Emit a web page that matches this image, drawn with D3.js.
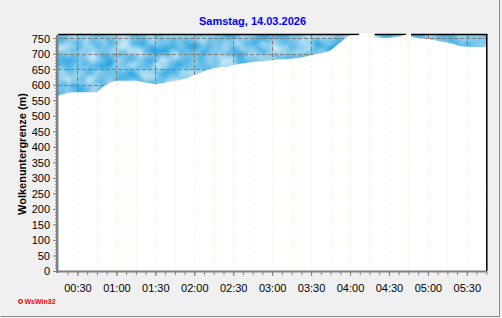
<!DOCTYPE html>
<html>
<head>
<meta charset="utf-8">
<script src="https://cdn.jsdelivr.net/npm/d3@7"></script>
<style>
	body { margin: 0; background: #f0f0f0; }
	svg { display: block; font-family: "Liberation Sans", Arial, sans-serif; }
</style>
</head>
<body>
<div id="chart"></div>
<script>
// Data (cloud base height in m)

var title = 'Samstag, 14.03.2026';
var yLabel = 'Wolkenuntergrenze (m)';
var times = [
	'00:15', '00:20', '00:25', '00:45', '00:50', '00:55', '01:00', '01:15', '01:20', '01:25',
	'01:30', '01:35', '01:40', '01:45', '01:50', '01:55', '02:00', '02:05', '02:10', '02:15',
	'02:20', '02:25', '02:30', '02:35', '02:40', '02:45', '02:50', '02:55', '03:00', '03:05',
	'03:10', '03:15', '03:20', '03:25', '03:30', '03:35', '03:40', '03:45', '03:50', '03:55',
	'04:00', '04:07', '04:08', '04:18', '04:19', '04:25', '04:30', '04:35', '04:39', '04:41',
	'04:43', '04:44', '04:46', '04:47', '04:50', '04:55', '05:00', '05:05', '05:10', '05:15',
	'05:20', '05:25', '05:30', '05:35', '05:40', '05:45'
];
var cloudBase = [
	565, 570, 576, 576, 594, 606, 613, 613, 609, 605,
	602, 605, 609, 612, 617, 622, 630, 638, 647, 653,
	656, 658, 663, 667, 671, 673, 675, 677, 679, 681,
	682, 684, 685, 690, 695, 700, 703, 711, 728, 744,
	758, 760, 1000, 1000, 753, 751, 751, 753, 755, 760,
	760, 1000, 1000, 756, 752, 749, 747, 743, 739, 735,
	731, 724, 722, 721, 721, 721
];
var xTickLabels = ['00:30', '01:00', '01:30', '02:00', '02:30', '03:00', '03:30', '04:00', '04:30', '05:00', '05:30'];
var yTicks = [0, 50, 100, 150, 200, 250, 300, 350, 400, 450, 500, 550, 600, 650, 700, 750];

// Config

var width = 502, height = 318;
var plot = { left: 58, right: 486.3, top: 35, bottom: 271 };
var timeRange = ['00:15', '05:45'];
var yMax = 760;

// Helpers

function toMinutes(s) {
	let parts = s.split(':');
	return +parts[0] * 60 + +parts[1];
}

function range(start, stop, step) {
	return d3.range(start, stop + step / 2, step);
}

var points = times.map((t, i) => ({ t: toMinutes(t), v: cloudBase[i] }));

var x = d3.scaleLinear()
	.domain(timeRange.map(toMinutes))
	.range([plot.left, plot.right]);
var y = d3.scaleLinear()
	.domain([0, yMax])
	.range([plot.bottom, plot.top]);

var svg = d3.select('#chart').append('svg')
	.attr('width', width)
	.attr('height', height);

svg.append('rect')
	.attr('width', width).attr('height', height)
	.attr('fill', '#f0f0f0');

// outer frame
svg.append('path')
	.attr('d', `M0.5,${height - 1.5} L${width - 2.5},${height - 1.5} L${width - 2.5},0`)
	.attr('fill', 'none').attr('stroke', '#8a8a8a');

var defs = svg.append('defs');

// cloud texture
var filter = defs.append('filter')
	.attr('id', 'clouds')
	.attr('x', 0).attr('y', 0).attr('width', 1).attr('height', 1)
	.attr('color-interpolation-filters', 'sRGB');
filter.append('feTurbulence')
	.attr('type', 'fractalNoise')
	.attr('baseFrequency', '0.06 0.07')
	.attr('numOctaves', 2)
	.attr('seed', 7)
	.attr('stitchTiles', 'stitch');
filter.append('feGaussianBlur')
	.attr('stdDeviation', 1.2);
filter.append('feColorMatrix')
	.attr('type', 'matrix')
	.attr('values', [
		'1.1 0 0 0 -0.08',
		'0.45 0 0 0 0.55',
		'0.12 0 0 0 0.86',
		'0 0 0 0 1'
	].join(' '));

defs.append('clipPath').attr('id', 'plot-clip')
	.append('rect')
	.attr('x', plot.left).attr('y', plot.top - 2)
	.attr('width', plot.right - plot.left).attr('height', plot.bottom - plot.top + 2);

var area = d3.area()
	.x(d => x(d.t))
	.y0(y(0))
	.y1(d => y(d.v));

defs.append('clipPath').attr('id', 'clear-clip')
	.append('path')
	.attr('d', area(points));

// Rendering

svg.append('rect')
	.attr('x', plot.left).attr('y', plot.top)
	.attr('width', plot.right - plot.left).attr('height', plot.bottom - plot.top)
	.attr('fill', '#6cc3ef')
	.attr('filter', 'url(#clouds)');

var grid = svg.append('g').attr('class', 'grid')
	.attr('stroke', '#808080').attr('stroke-dasharray', '4,2');
grid.selectAll('.hgrid')
	.data(yTicks.filter(v => v > 0))
	.enter().append('line')
		.attr('x1', plot.left).attr('x2', plot.right)
		.attr('y1', d => Math.round(y(d)) + 0.5).attr('y2', d => Math.round(y(d)) + 0.5);
grid.selectAll('.vgrid')
	.data(xTickLabels.map(toMinutes))
	.enter().append('line')
		.attr('x1', d => Math.round(x(d)) + 0.5).attr('x2', d => Math.round(x(d)) + 0.5)
		.attr('y1', plot.top).attr('y2', plot.bottom);

// top frame line (covered where the cloud base is above the chart)
svg.append('line')
	.attr('x1', plot.left).attr('x2', plot.right + 1)
	.attr('y1', plot.top - 0.5).attr('y2', plot.top - 0.5)
	.attr('stroke', '#000').attr('stroke-width', 1.5);

svg.append('path')
	.attr('d', area(points))
	.attr('fill', '#fff')
	.attr('clip-path', 'url(#plot-clip)');

// pale quarter-hour lines in the clear part
svg.append('g')
	.attr('clip-path', 'url(#clear-clip)')
	.selectAll('line')
	.data(range(toMinutes('00:30'), toMinutes('05:45'), 15))
	.enter().append('line')
		.attr('x1', d => Math.round(x(d)) + 0.5).attr('x2', d => Math.round(x(d)) + 0.5)
		.attr('y1', plot.top).attr('y2', plot.bottom)
		.attr('stroke', '#f8f8c0')
		.attr('stroke-dasharray', '3,3');

svg.append('line')
	.attr('x1', plot.right + 0.5).attr('x2', plot.right + 0.5)
	.attr('y1', plot.top - 1).attr('y2', plot.bottom)
	.attr('stroke', '#000').attr('stroke-width', 1.5);

// axes
var xAxisMinor = d3.axisBottom(x)
	.tickValues(range(toMinutes('00:22') + 0.5, toMinutes('05:45'), 7.5))
	.tickSize(3).tickFormat('');
var xAxis = d3.axisBottom(x)
	.tickValues(xTickLabels.map(toMinutes))
	.tickSize(4)
	.tickFormat((d, i) => xTickLabels[i]);
var yAxisMinor = d3.axisLeft(y)
	.tickValues(range(0, 750, 10))
	.tickSize(2).tickFormat('');
var yAxis = d3.axisLeft(y)
	.tickValues(yTicks)
	.tickSize(4);

function styleAxis(g) {
	g.select('.domain').remove();
	g.selectAll('.tick line').attr('stroke', '#808080');
	g.selectAll('.tick text')
		.attr('fill', '#000')
		.attr('font-size', 11)
		.attr('font-family', '"Liberation Sans", Arial, sans-serif');
}

svg.append('g').attr('transform', `translate(0,${plot.bottom + 1})`).call(xAxisMinor).call(styleAxis);
svg.append('g').attr('transform', `translate(0,${plot.bottom + 1})`).call(xAxis).call(styleAxis)
	.selectAll('.tick text').attr('dy', '1.2em');
svg.append('g').attr('transform', `translate(${plot.left - 1},0)`).call(yAxisMinor).call(styleAxis);
svg.append('g').attr('transform', `translate(${plot.left - 1},0)`).call(yAxis).call(styleAxis)
	.selectAll('.tick text').attr('x', -7).attr('dy', '0.36em');

svg.append('line')
	.attr('x1', plot.left - 0.8).attr('x2', plot.left - 0.8)
	.attr('y1', plot.top).attr('y2', plot.bottom + 2)
	.attr('stroke', '#808080').attr('stroke-width', 2.5);
svg.append('line')
	.attr('x1', plot.left - 2).attr('x2', plot.right + 1)
	.attr('y1', plot.bottom + 0.5).attr('y2', plot.bottom + 0.5)
	.attr('stroke', '#808080').attr('stroke-width', 2);

// texts
svg.append('text')
	.attr('x', 252.5).attr('y', 25)
	.attr('text-anchor', 'middle')
	.attr('font-size', 11).attr('font-weight', 'bold')
	.attr('fill', '#0000ff')
	.text(title);

svg.append('text')
	.attr('transform', `translate(26,${(plot.top + plot.bottom) / 2 + 1}) rotate(-90)`)
	.attr('text-anchor', 'middle')
	.attr('font-size', 11).attr('font-weight', 'bold')
	.attr('fill', '#000')
	.text(yLabel);

svg.append('circle')
	.attr('cx', 20.5).attr('cy', 301.5).attr('r', 1.8)
	.attr('fill', '#fff').attr('stroke', '#ff0000').attr('stroke-width', 1.3);
svg.append('text')
	.attr('x', 24.5).attr('y', 304)
	.attr('font-size', 7).attr('font-weight', 'bold')
	.attr('fill', '#ff0000')
	.text('WsWin32');
</script>
</body>
</html>
